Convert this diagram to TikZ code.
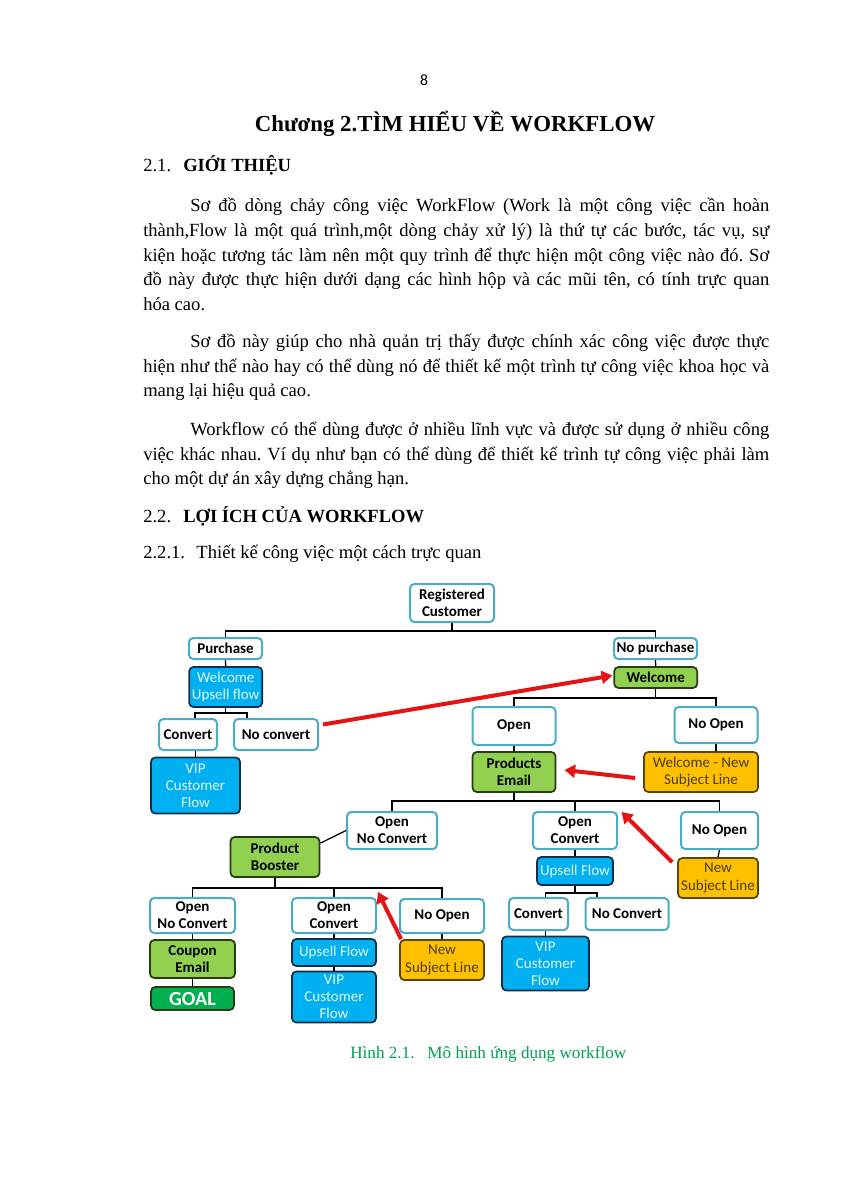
\documentclass[tikz,border=0pt]{standalone}
\usepackage{fontspec}
\setmainfont{Liberation Serif}
\newfontfamily\dfont{Carlito}
\usetikzlibrary{arrows.meta,calc}
\frenchspacing
\definecolor{tealc}{RGB}{75,172,198}
\definecolor{bluef}{RGB}{0,176,240}
\definecolor{blued}{RGB}{20,45,70}
\definecolor{greenf}{RGB}{146,208,80}
\definecolor{greend}{RGB}{40,60,20}
\definecolor{orangef}{RGB}{255,192,0}
\definecolor{oranged}{RGB}{90,70,0}
\definecolor{otext}{RGB}{75,60,10}
\definecolor{goalf}{RGB}{0,176,80}
\definecolor{redc}{RGB}{228,20,20}
\definecolor{btext}{RGB}{228,246,255}
\definecolor{capc}{RGB}{0,160,80}
\newcommand\JLine[1]{\makebox[438.2pt][s]{#1}}
\newcommand\JFirst[1]{\makebox[405.3pt][s]{#1}}
\begin{document}
\begin{tikzpicture}[x=0.7pt,y=-0.7pt,
  sz/.style 2 args={minimum width={#1*0.7pt}, minimum height={#2*0.7pt}},
  box/.style={rounded corners=3pt, inner sep=0pt, align=center},
  wbox/.style={box, draw=tealc, line width=1.4pt, fill=white, font=\dfont\bfseries\fontsize{10.5}{12}\selectfont},
  bbox/.style={box, draw=blued, line width=1.2pt, fill=bluef, text=btext, font=\dfont\fontsize{10.5}{12}\selectfont},
  gbox/.style={box, draw=greend, line width=1.2pt, fill=greenf, font=\dfont\bfseries\fontsize{10.5}{12}\selectfont},
  obox/.style={box, draw=oranged, line width=1.2pt, fill=orangef, text=otext, font=\dfont\fontsize{10.5}{12}\selectfont},
  goalbox/.style={box, draw=greend, line width=1.2pt, fill=goalf, text=white, font=\dfont\bfseries\fontsize{14}{16}\selectfont},
  conn/.style={draw=black, line width=0.9pt},
  redarrow/.style={draw=redc, line width=2.8pt, -{Triangle[length=7.5pt,width=9pt]}},
  body/.style={anchor=base west, inner sep=0pt, font=\fontsize{13}{15}\selectfont},
  bodyb/.style={anchor=base west, inner sep=0pt, font=\bfseries\fontsize{13}{15}\selectfont}
]
\useasboundingbox (0,0) rectangle (849,1200);
\fill[white] (0,0) rectangle (849,1200);

% ---------- page text ----------
\node[anchor=base, inner sep=0pt, font=\dfont\fontsize{11}{13}\selectfont] (pg) at (424,85) {8};
\node[anchor=base, inner sep=0pt, font=\bfseries\fontsize{16}{19}\selectfont] (title) at (455,131) {Chương 2.TÌM HIỂU VỀ WORKFLOW};
\node[body] (s21n) at (143,171) {2.1.};
\node[bodyb] (s21t) at (183,171) {GIỚI THIỆU};

\node[body] (p1a) at (190,211) {\JFirst{Sơ đồ dòng chảy công việc WorkFlow (Work là một công việc cần hoàn}};
\node[body] (p1b) at (143,236) {\JLine{thành,Flow là một quá trình,một dòng chảy xử lý) là thứ tự các bước, tác vụ, sự}};
\node[body] (p1c) at (143,261) {\JLine{kiện hoặc tương tác làm nên một quy trình để thực hiện một công việc nào đó. Sơ}};
\node[body] (p1d) at (143,285.5) {\JLine{đồ này được thực hiện dưới dạng các hình hộp và các mũi tên, có tính trực quan}};
\node[body] (p1e) at (143,310) {hóa cao.};

\node[body] (p2a) at (190,347) {\JFirst{Sơ đồ này giúp cho nhà quản trị thấy được chính xác công việc được thực}};
\node[body] (p2b) at (143,372) {\JLine{hiện như thế nào hay có thể dùng nó để thiết kế một trình tự công việc khoa học và}};
\node[body] (p2c) at (143,396.5) {mang lại hiệu quả cao.};

\node[body] (p3a) at (190,435.5) {\JFirst{Workflow có thể dùng được ở nhiều lĩnh vực và được sử dụng ở nhiều công}};
\node[body] (p3b) at (143,460) {\JLine{việc khác nhau. Ví dụ như bạn có thể dùng để thiết kế trình tự công việc phải làm}};
\node[body] (p3c) at (143,484.5) {cho một dự án xây dựng chẳng hạn.};

\node[body] (s22n) at (143,522.5) {2.2.};
\node[bodyb] (s22t) at (183,522.5) {LỢI ÍCH CỦA WORKFLOW};
\node[body] (s221) at (143,558.5) {2.2.1.\hspace{8pt}Thiết kế công việc một cách trực quan};

\node[anchor=base west, inner sep=0pt, text=capc, font=\fontsize{12}{14}\selectfont] (cap) at (350,1058) {Hình 2.1.\hspace{9pt}Mô hình ứng dụng workflow};

% ---------- diagram nodes ----------
% white boxes
\node[wbox, sz={84}{38}] (R) at (452,603) {Registered\\Customer};
\node[wbox, sz={73}{21}] (Pu) at (225.5,648.5) {Purchase};
\node[wbox, sz={83}{21}] (NP) at (655.5,648.5) {No purchase};
\node[wbox, sz={58}{31}] (Cv1) at (188,734.5) {Convert};
\node[wbox, sz={84}{31}] (NC1) at (276,734.5) {No convert};
\node[wbox, sz={83}{38}] (Op1) at (514,726) {Open};
\node[wbox, sz={83}{36}] (NO1) at (716,725) {No Open};
\node[wbox, sz={90}{37}] (ONC1) at (392,830.5) {Open\\No Convert};
\node[wbox, sz={84}{37}] (OC1) at (575,830.5) {Open\\Convert};
\node[wbox, sz={77}{37}] (NO2) at (719.5,830.5) {No Open};
\node[wbox, sz={85}{35}] (ONC2) at (192.5,915.5) {Open\\No Convert};
\node[wbox, sz={84}{35}] (OC2) at (334,915.5) {Open\\Convert};
\node[wbox, sz={84}{34}] (NO3) at (442,916) {No Open};
\node[wbox, sz={59}{32}] (Cv2) at (538.5,914) {Convert};
\node[wbox, sz={83}{32}] (NC2) at (627,914) {No Convert};
% blue boxes
\node[bbox, sz={73}{40}] (WU) at (225.7,687) {Welcome\\Upsell flow};
\node[bbox, sz={89}{56}] (VIP1) at (195.5,785.5) {VIP\\Customer\\Flow};
\node[bbox, sz={76}{28}] (UF1) at (575,871) {Upsell Flow};
\node[bbox, sz={84}{27}] (UF2) at (334,952.5) {Upsell Flow};
\node[bbox, sz={84}{51}] (VIP2) at (334,997) {VIP\\Customer\\Flow};
\node[bbox, sz={87}{54}] (VIP3) at (545.5,963.5) {VIP\\Customer\\Flow};
% green boxes
\node[gbox, sz={83}{21}] (Wel) at (655.7,677.5) {Welcome};
\node[gbox, sz={83}{40}] (PE) at (514,772) {Products\\Email};
\node[gbox, sz={89}{40}] (PB) at (275,857) {Product\\Booster};
\node[gbox, sz={85}{38}] (CE) at (192.5,959) {Coupon\\Email};
\node[goalbox, sz={83}{23}] (GOAL) at (192.5,998.5) {GOAL};
% orange boxes
\node[obox, sz={114}{40}] (WNS) at (701,772) {Welcome - New\\Subject Line};
\node[obox, sz={80}{40}] (NSL1) at (718,878) {New\\Subject Line};
\node[obox, sz={84}{40}] (NSL2) at (442,960) {New\\Subject Line};

% ---------- connectors ----------
\coordinate (bus1) at (452,631);
\draw[conn] (R.south) -- (bus1);
\draw[conn] (Pu.north) |- (bus1) -| (NP.north);
\draw[conn] (Pu.south) -- (WU.north);
\draw[conn] (NP.south) -- (Wel.north);

\coordinate (busA) at (221.6,713);
\draw[conn] (WU.south) -- (WU.south |- busA);
\draw[conn] ($(Cv1.north)+(7,0)$) |- (busA) -| ($(NC1.north)+(-29,0)$);
\draw[conn] (VIP1.north) -- (VIP1.north |- Cv1.south);

\coordinate (bus2) at (659,698);
\draw[conn] (Wel.south) -- (Wel.south |- bus2);
\draw[conn] (Op1.north) |- (bus2) -| (NO1.north);
\draw[conn] (Op1.south) -- (PE.north);
\draw[conn] (NO1.south) -- (NO1.south |- WNS.north);

\coordinate (bus3) at (514,801);
\draw[conn] (PE.south) -- (bus3);
\draw[conn] (ONC1.north) |- (bus3) -| (NO2.north);
\draw[conn] (OC1.north) -- (OC1.north |- bus3);
\draw[conn] (ONC1.west) -- ($(PB.north east)+(0,7)$);
\draw[conn] (OC1.south) -- (UF1.north);
\draw[conn] (NO2.south) -- (NSL1.north);

\coordinate (bus4) at (275,888);
\draw[conn] (PB.south) -- (bus4);
\draw[conn] (ONC2.north) |- (bus4) -| (NO3.north);
\draw[conn] (OC2.north) -- (OC2.north |- bus4);
\draw[conn] (ONC2.south) -- (CE.north);
\draw[conn] (CE.south) -- (GOAL.north);
\draw[conn] (OC2.south) -- (UF2.north);
\draw[conn] (UF2.south) -- (VIP2.north);
\draw[conn] (NO3.south) -- (NSL2.north);

\coordinate (bus5) at (575,893);
\draw[conn] (UF1.south) -- (bus5);
\draw[conn] ($(Cv2.north)+(7,0)$) |- (bus5) -| ($(NC2.north)+(-30,0)$);
\draw[conn] (VIP3.north) -- (VIP3.north |- Cv2.south);

% ---------- red arrows ----------
\draw[redarrow] ($(NC1.east)+(4,-10)$) -- ($(Wel.west)+(-1,-2)$);
\draw[redarrow] ($(WNS.west)+(-8,6)$) -- ($(PE.east)+(8,-2)$);
\coordinate (t3) at (621.6,812);
\draw[redarrow] ($(NSL1.north west)+(-5,5)$) -- (t3);
\coordinate (t4) at (378,892);
\draw[redarrow] ($(NSL2.north west)+(2,0)$) -- (t4);
\end{tikzpicture}
\end{document}
